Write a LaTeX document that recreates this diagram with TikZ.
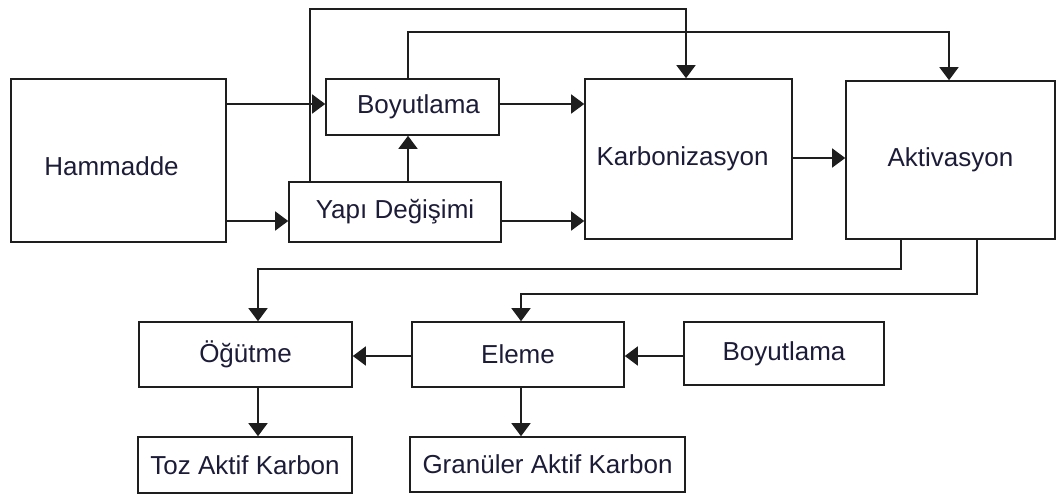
\documentclass[tikz,border=0pt]{standalone}
\usepackage{fontspec}
\setmainfont{Liberation Sans}
\usetikzlibrary{arrows.meta}
\definecolor{txt}{HTML}{1C1C38}
\definecolor{ln}{HTML}{1E1E1E}
\begin{document}
\begin{tikzpicture}[x=1pt,y=-1pt,
  box/.style={draw=ln,line width=1.6pt,rectangle,inner sep=0pt,text=txt,font=\fontsize{26}{30}\selectfont},
  arr/.style={draw=ln,line width=1.6pt,-{Triangle[width=19pt,length=13pt]}},
  ln/.style={draw=ln,line width=1.6pt}]
\useasboundingbox (0,0) rectangle (1057,495);
% nodes
\node[box,minimum width=215pt,minimum height=163pt] (ham) at (118.5,160.5) {\raisebox{-15pt}[0pt][0pt]{Hammadde}\hspace*{14pt}};
\node[box,minimum width=173pt,minimum height=56pt] (boy1) at (412.5,107) {\hspace*{12pt}Boyutlama};
\node[box,minimum width=212pt,minimum height=60pt] (yapi) at (395,212) {Yapı Değişimi};
\node[box,minimum width=207pt,minimum height=160pt] (karb) at (688.5,159) {Karbonizasyon\hspace*{12pt}};
\node[box,minimum width=209pt,minimum height=158pt] (akt) at (950.5,160) {Aktivasyon};
\node[box,minimum width=213pt,minimum height=65pt] (ogut) at (245.5,354.5) {Öğütme};
\node[box,minimum width=212pt,minimum height=65pt] (eleme) at (518,354.5) {Eleme};
\node[box,minimum width=200pt,minimum height=63pt] (boy2) at (784,353.5) {Boyutlama};
\node[box,minimum width=214pt,minimum height=56pt] (toz) at (245,465) {Toz Aktif Karbon};
\node[box,minimum width=275pt,minimum height=55pt] (gran) at (547.5,464.5) {Granüler Aktif Karbon};
% helper coordinates
\coordinate (r1) at (0,104);
\coordinate (r2) at (0,221);
\coordinate (r3) at (0,158);
\coordinate (r4) at (0,356);
\coordinate (t1) at (0,9);
\coordinate (t2) at (0,32);
\coordinate (b1) at (0,269);
\coordinate (b2) at (0,294);
\coordinate (c1) at (408,0);
\coordinate (c2) at (310,0);
\coordinate (c3) at (686,0);
\coordinate (c4) at (949,0);
\coordinate (c5) at (901,0);
\coordinate (c6) at (977,0);
\coordinate (c7) at (258,0);
\coordinate (c8) at (521,0);
% connectors
\draw[arr] (ham.east |- r1) -- (boy1.west |- r1);
\draw[arr] (ham.east |- r2) -- (yapi.west |- r2);
\draw[arr] (yapi.north -| c1) -- (boy1.south -| c1);
\draw[arr] (boy1.east |- r1) -- (karb.west |- r1);
\draw[arr] (yapi.east |- r2) -- (karb.west |- r2);
\draw[arr] (yapi.north -| c2) -- (c2 |- t1) -- (c3 |- t1) -- (karb.north -| c3);
\draw[arr] (boy1.north -| c1) -- (c1 |- t2) -- (c4 |- t2) -- (akt.north -| c4);
\draw[arr] (karb.east |- r3) -- (akt.west |- r3);
\draw[arr] (akt.south -| c5) -- (c5 |- b1) -- (c7 |- b1) -- (ogut.north -| c7);
\draw[arr] (akt.south -| c6) -- (c6 |- b2) -- (c8 |- b2) -- (eleme.north -| c8);
\draw[arr] (eleme.west |- r4) -- (ogut.east |- r4);
\draw[arr] (boy2.west |- r4) -- (eleme.east |- r4);
\draw[arr] (ogut.south -| c7) -- (toz.north -| c7);
\draw[arr] (eleme.south -| c8) -- (gran.north -| c8);
\end{tikzpicture}
\end{document}
